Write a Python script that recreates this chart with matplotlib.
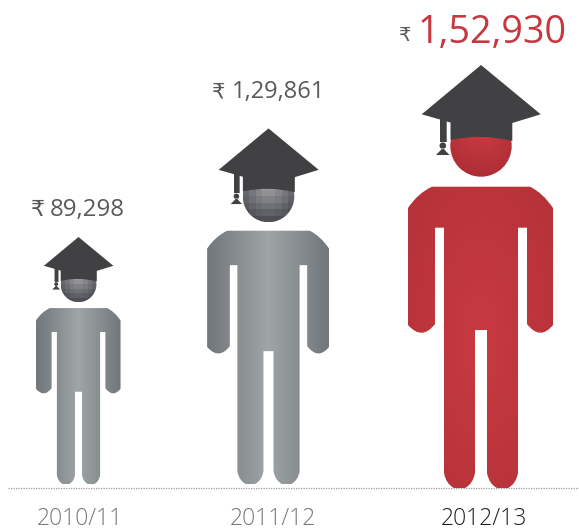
import numpy as np
import matplotlib
matplotlib.use('Agg')
import matplotlib.pyplot as plt
from matplotlib.patches import PathPatch
from matplotlib.path import Path
from matplotlib.transforms import Affine2D
from matplotlib.colors import LinearSegmentedColormap

years = ['2010/11', '2011/12', '2012/13']
salaries = [89298, 129861, 152930]
salary_labels = ['89,298', '1,29,861', '1,52,930']

plt.rcParams['font.family'] = ['Open Sans', 'DejaVu Sans']

# one pixel in data units (the tallest figure is 423 px high)
PX = max(salaries) / 423.0
M, L, Q = Path.MOVETO, Path.LINETO, Path.CURVE3


def to_unit(x, y):
    # shape was measured on the 2012/13 figure, make it 1 unit high
    return (x - 481) / 423.0, (488 - y) / 423.0


def build_path(steps):
    verts, codes = [], []
    for step in steps:
        if step[0] == 'M' or step[0] == 'L':
            verts.append(to_unit(step[1], step[2]))
            codes.append(M if step[0] == 'M' else L)
        else:
            verts.append(to_unit(step[1], step[2]))
            verts.append(to_unit(step[3], step[4]))
            codes += [Q, Q]
    verts.append(verts[0])
    codes.append(Path.CLOSEPOLY)
    return Path(verts, codes)


body = build_path([
    ('M', 432, 186.7), ('L', 530, 186.7), ('Q', 543, 193, 553, 208),
    ('L', 553, 325), ('Q', 540, 341, 527, 324), ('L', 527, 227.7),
    ('L', 518, 227.7), ('L', 518, 473), ('Q', 516, 484, 508, 488),
    ('L', 497, 488), ('Q', 489, 484, 487, 473), ('L', 487, 330),
    ('L', 475, 330), ('L', 475, 473), ('Q', 473, 484, 465, 488),
    ('L', 454, 488), ('Q', 446, 484, 444, 473), ('L', 444, 227.7),
    ('L', 435, 227.7), ('L', 435, 324), ('Q', 422, 341, 408, 325),
    ('L', 408, 208), ('Q', 418, 193, 432, 186.7),
])
cap = build_path([
    ('M', 481, 65), ('L', 540.7, 114.3), ('L', 512.3, 123), ('L', 512.3, 141),
    ('Q', 481, 133, 450.5, 140), ('L', 450.5, 122.5), ('L', 446.7, 121.5),
    ('L', 446.7, 142), ('L', 440, 142), ('L', 440, 119.5), ('L', 421.7, 114.3),
])
tassel = build_path([('M', 442.8, 148), ('L', 449.5, 155), ('L', 436, 155)])
knob = Path.circle(to_unit(442.8, 145.7), 3.3 / 423.0)
cap_full = Path.make_compound_path(cap, tassel, knob)
head = Path.circle(to_unit(481, 146), 30.7 / 423.0)

grey_body = LinearSegmentedColormap.from_list('gb', ['#9fa4a7', '#73787c'])
grey_head = LinearSegmentedColormap.from_list('gh', ['#a3a3a7', '#47494f'])
red_body = LinearSegmentedColormap.from_list('rb', ['#c83a42', '#b43137'])
red_head = LinearSegmentedColormap.from_list('rh', ['#c93b43', '#ab2c33'])


def shade(ax, path, trans, scale, cx, lift, values, cmap, interp):
    patch = PathPatch(path, transform=trans + ax.transData, fc='none', ec='none')
    ax.add_patch(patch)
    box = path.get_extents()
    im = ax.imshow(values, cmap=cmap, vmin=0, vmax=1, origin='lower', aspect='auto',
                   interpolation=interp, zorder=2,
                   extent=[cx + scale * box.x0, cx + scale * box.x1,
                           lift + scale * box.y0, lift + scale * box.y1])
    im.set_clip_path(patch)


fig = plt.figure(figsize=(5.79, 5.32), dpi=100)
ax = fig.add_axes([0, 0, 1, 1])

centres = [78.5 * PX, 268.5 * PX, 481 * PX]
lifts = [4 * PX, 4 * PX, 0]
fudge = [1.0, 0.99, 1.0]
value_tops = [216, 98, 43]
value_lefts = [50, 232, 418]
rupee_lefts = [31, 212, 399]
value_sizes = [17.3, 17, 27.2]
rupee_sizes = [16, 15, 14]
rupee_baseline = [216, 98, 41]
year_centres = [80, 273, 484]

for i, value in enumerate(salaries):
    scale = value * fudge[i]
    cx, lift = centres[i], lifts[i]
    trans = Affine2D().scale(scale).translate(cx, lift)
    is_red = i == 2

    # body, dark at the sides and light down the middle
    if is_red:
        yy, xx = np.mgrid[0:60, 0:60] / 59.0
        grad = np.hypot(xx - 0.5, (yy - 0.5) * 0.9) / 0.7
        shade(ax, body, trans, scale, cx, lift, grad, red_body, 'bilinear')
    else:
        grad = np.abs(np.linspace(-1, 1, 31))[None, :]
        shade(ax, body, trans, scale, cx, lift, grad, grey_body, 'nearest')

    # head, pixelated on the grey figures
    n = 60 if is_red else 8
    yy, xx = np.mgrid[0:n, 0:n] / (n - 1.0)
    grad = np.clip(np.hypot(xx - 0.5, yy - 0.72) / 0.8, 0, 1)
    shade(ax, head, trans, scale, cx, lift, grad, red_head if is_red else grey_head,
          'bilinear' if is_red else 'nearest')

    ax.add_patch(PathPatch(cap_full, transform=trans + ax.transData, fc='#414042',
                           ec='none', zorder=3))

    ax.text(rupee_lefts[i] * PX, (488 - rupee_baseline[i]) * PX, '\u20b9', fontsize=rupee_sizes[i],
            color='#58595b', family=['DejaVu Sans'], ha='left', va='baseline')
    ax.text(value_lefts[i] * PX, (488 - value_tops[i]) * PX, salary_labels[i],
            fontsize=value_sizes[i], color='#c8373f' if is_red else '#58595b',
            ha='left', va='baseline')
    ax.text(year_centres[i] * PX, (488 - 525) * PX, years[i], fontsize=16.5, weight='light',
            color='#231f20' if is_red else '#77787b', ha='center', va='baseline')

ax.plot([8 * PX, 579 * PX], [0, 0], color='#9a9c9e', lw=0.9, ls=(0, (1, 1)), zorder=1)

ax.set_xlim(0, 579 * PX)
ax.set_ylim(-44 * PX, 488 * PX)
ax.axis('off')

fig.savefig('out.png', dpi=100)
plt.close(fig)
